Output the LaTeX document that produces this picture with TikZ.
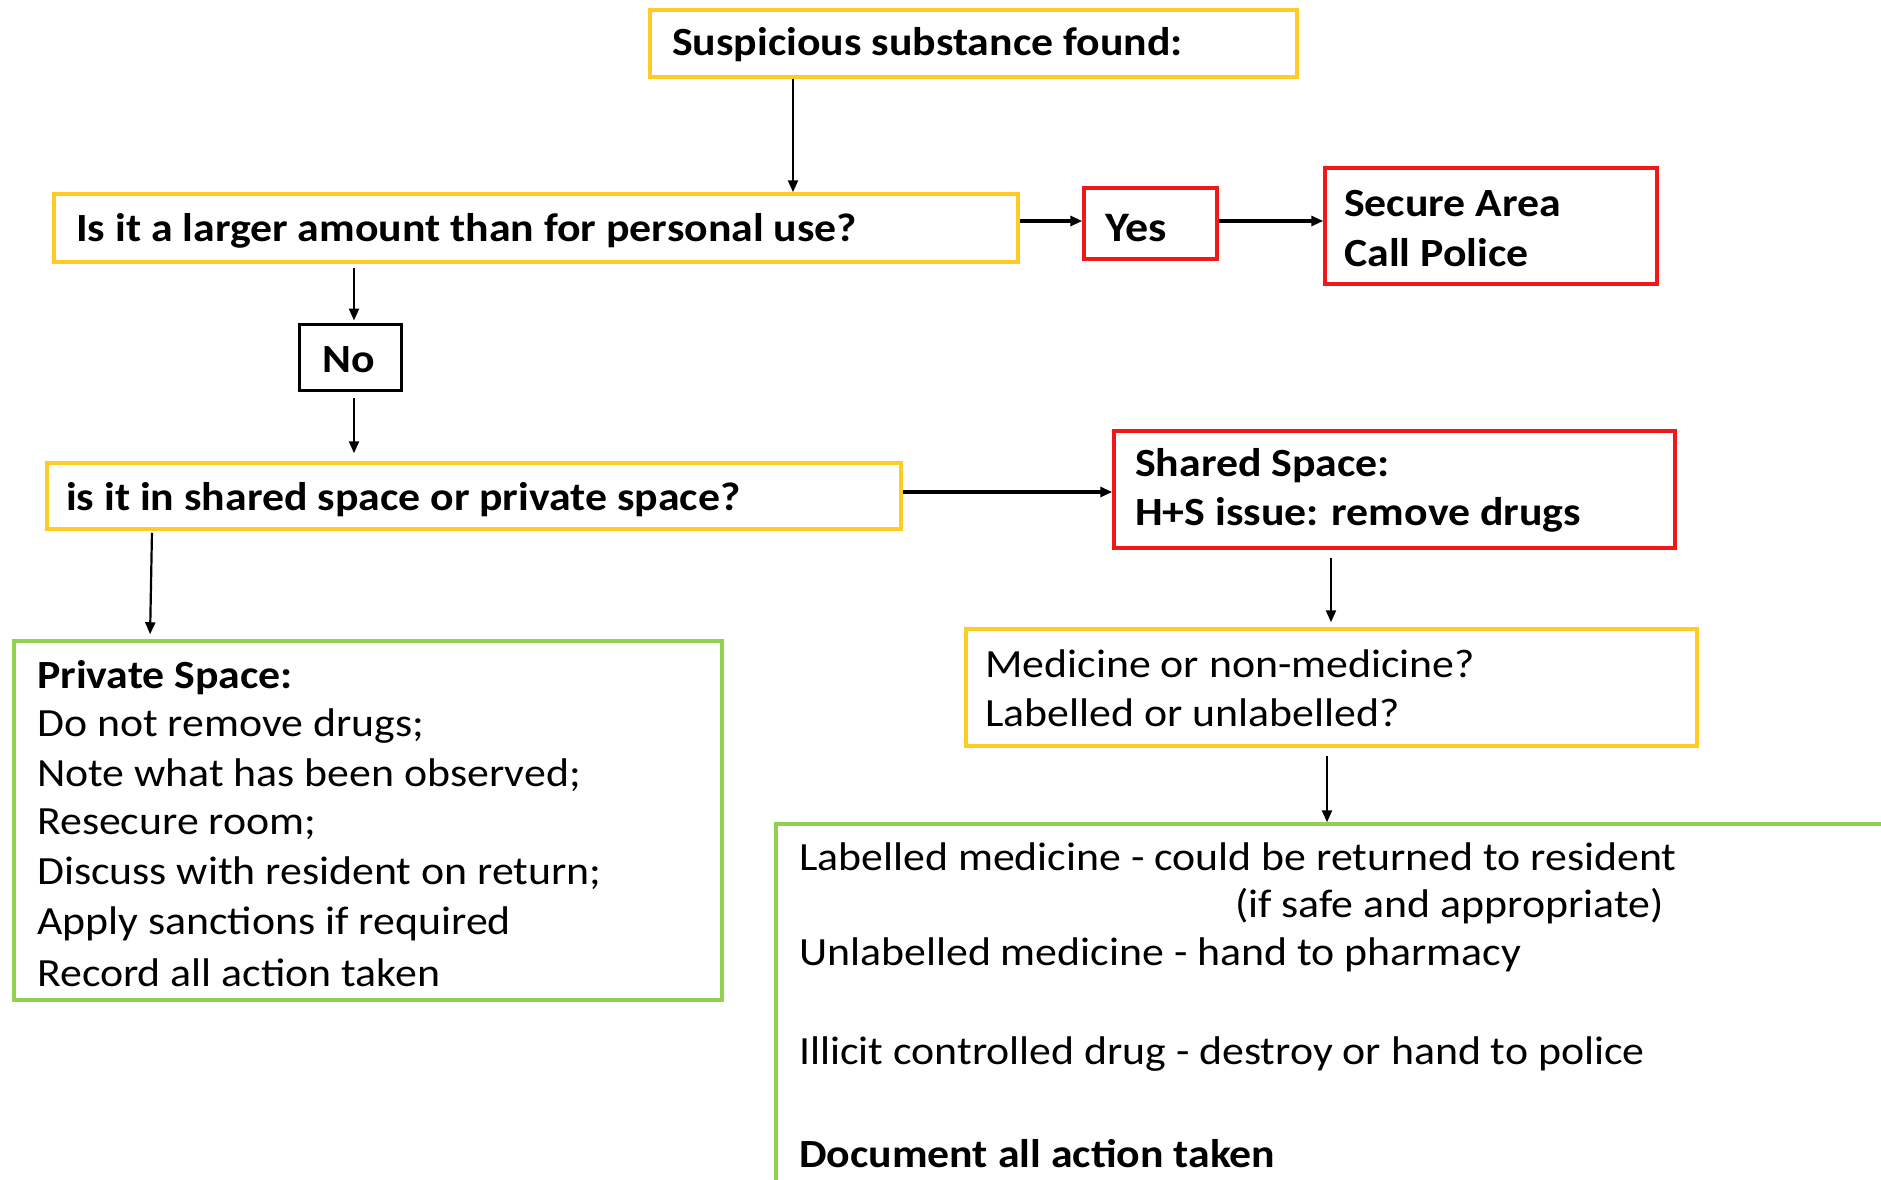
\documentclass[tikz,border=0pt]{standalone}
\usepackage{fontspec}
\setmainfont{Carlito}[FakeStretch=1.095]
\usetikzlibrary{arrows.meta}
\definecolor{byellow}{HTML}{FFCC26}
\definecolor{bred}{HTML}{F01818}
\definecolor{bgreen}{HTML}{92D050}
\begin{document}
\begin{tikzpicture}[x=1pt,y=-1pt,
  boxbase/.style={draw,line width=3.5pt,inner sep=0pt,rectangle},
  ybox/.style={boxbase,draw=byellow},
  rbox/.style={boxbase,draw=bred},
  gbox/.style={boxbase,draw=bgreen},
  kbox/.style={boxbase,draw=black,line width=3pt},
  txt/.style={anchor=west,inner sep=0pt,font=\fontsize{40}{48}\selectfont},
  btxt/.style={txt,font=\fontsize{40}{48}\selectfont\bfseries},
  arr/.style={-{Triangle[length=12pt,width=10pt]},line width=2.2pt},
  tarr/.style={-{Triangle[length=12pt,width=10pt]},line width=3.5pt}]
\clip (0,0) rectangle (1881,1179);
\fill[white] (0,0) rectangle (1881,1179);
% boxes
\node[ybox,minimum width=647pt,minimum height=67pt] (b1) at (973.5,43.5) {};
\node[ybox,minimum width=964pt,minimum height=68pt] (b2) at (536,228) {};
\node[rbox,minimum width=133pt,minimum height=71pt] (yes) at (1150.5,223.5) {};
\node[rbox,minimum width=332pt,minimum height=116pt] (sec) at (1491,226) {};
\node[kbox,minimum width=102pt,minimum height=66pt] (no) at (350,357) {};
\node[ybox,minimum width=854pt,minimum height=66pt] (b6) at (474,496) {};
\node[rbox,minimum width=561pt,minimum height=117pt] (sh) at (1394.5,489.5) {};
\node[gbox,minimum width=708pt,minimum height=359pt] (pr) at (368,820.5) {};
\node[ybox,minimum width=731pt,minimum height=117pt] (med) at (1331.5,687.5) {};
\node[gbox,minimum width=1174pt,minimum height=426pt] (lab) at (1363,1037) {};
% texts
\node[btxt] (t1) at (672,45) {Suspicious substance found:};
\node[btxt] (t2) at (76,231) {Is it a larger amount than for personal use?};
\node[btxt,font=\fontsize{42}{50}\selectfont\bfseries] (t3) at (1105,228) {Yes};
\node[btxt] (t4a) at (1344,204) {Secure Area};
\node[btxt] (t4b) at (1344,253) {Call Police};
\node[btxt] (t5) at (322,360) {No};
\node[btxt] (t6) at (66,500) {is it in shared space or private space?};
\node[btxt] (t7a) at (1135,466) {Shared Space:};
\node[btxt] (t7b) at (1135,515) {H+S issue: remove drugs};
\node[btxt] (p1) at (37,678) {Private Space:};
\node[txt] (p2) at (37,726) {Do not remove drugs;};
\node[txt] (p3) at (37,775) {Note what has been observed;};
\node[txt] (p4) at (37,824) {Resecure room;};
\node[txt] (p5) at (37,873) {Discuss with resident on return;};
\node[txt] (p6) at (37,924) {Apply sanctions if required};
\node[txt] (p7) at (37,973) {Record all action taken};
\node[txt] (m1) at (985,664) {Medicine or non-medicine?};
\node[txt] (m2) at (985,713) {Labelled or unlabelled?};
\node[txt] (l1) at (799,857) {Labelled medicine - could be returned to resident};
\node[txt] (l2) at (1235,906) {(if safe and appropriate)};
\node[txt] (l3) at (799,955) {Unlabelled medicine - hand to pharmacy};
\node[txt] (l4) at (799,1054) {Illicit controlled drug - destroy or hand to police};
\node[btxt] (l5) at (799,1154) {Document all action taken};
% connector positions
\coordinate (xa) at (793,0);
\coordinate (xb) at (354,0);
\coordinate (xc1) at (152,0);
\coordinate (xc2) at (150,0);
\coordinate (xd) at (1331,0);
\coordinate (xe) at (1327,0);
\coordinate (ya) at (0,221);
\coordinate (yb) at (0,492);
% connectors
\draw[arr] (b1.south -| xa) -- (b2.north -| xa);
\draw[tarr] (b2.east |- ya) -- (yes.west |- ya);
\draw[tarr] (yes.east |- ya) -- (sec.west |- ya);
\draw[arr,shorten <=4pt,shorten >=2pt] (b2.south -| xb) -- (no.north -| xb);
\draw[arr,shorten <=6pt,shorten >=8pt] (no.south -| xb) -- (b6.north -| xb);
\draw[tarr] (b6.east |- yb) -- (sh.west |- yb);
\draw[arr,shorten <=2pt,shorten >=5pt] (b6.south -| xc1) -- (pr.north -| xc2);
\draw[arr,shorten <=8pt,shorten >=5pt] (sh.south -| xd) -- (med.north -| xd);
\draw[arr,shorten <=8pt] (med.south -| xe) -- (lab.north -| xe);
\end{tikzpicture}
\end{document}
